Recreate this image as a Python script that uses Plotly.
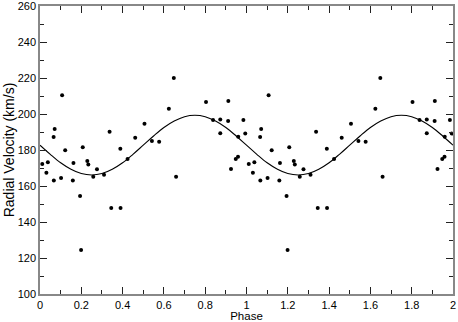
import plotly.graph_objects as go

# observed phases and radial velocities (one cycle, repeated at phase + 1)
phase = [0.011, 0.031, 0.038, 0.067, 0.066, 0.071, 0.102, 0.107, 0.122, 0.159,
         0.162, 0.194, 0.199, 0.207, 0.229, 0.234, 0.258, 0.276, 0.310, 0.337,
         0.345, 0.389, 0.390, 0.424, 0.461, 0.506, 0.542, 0.577, 0.624, 0.648,
         0.659, 0.804, 0.838, 0.873, 0.873, 0.912, 0.911, 0.925, 0.948, 0.959,
         0.960, 0.985, 0.994]
velocity = [172.2, 167.4, 173.2, 163.1, 187.2, 191.7, 164.4, 210.4, 179.8, 163.1,
            172.8, 154.4, 124.4, 181.5, 173.9, 172.0, 165.2, 169.3, 166.3, 190.2,
            147.8, 180.7, 147.8, 175.0, 186.8, 194.6, 185.0, 184.6, 202.9, 220.0,
            165.2, 206.7, 196.7, 197.0, 189.3, 207.2, 196.1, 169.4, 175.0, 176.3,
            187.4, 196.7, 189.1]

# fitted curve, one cycle
curve_phase = [0.0, 0.05, 0.1, 0.15, 0.2, 0.25, 0.3, 0.35, 0.4, 0.45, 0.5,
               0.55, 0.6, 0.65, 0.7, 0.75, 0.8, 0.85, 0.9, 0.95, 1.0]
curve_vel = [182.7, 177.6, 172.9, 169.3, 166.9, 166.1, 166.9, 169.3, 172.9, 177.6, 182.7,
             187.8, 192.5, 196.1, 198.5, 199.3, 198.5, 196.1, 192.5, 187.8, 182.7]

x_pts = phase + [p + 1 for p in phase]
y_pts = velocity + velocity
x_curve = curve_phase + [p + 1 for p in curve_phase[1:]]
y_curve = curve_vel + curve_vel[1:]

fig = go.Figure()

fig.add_trace(go.Scatter(
    x=x_curve, y=y_curve, mode="lines", line_shape="spline",
    line=dict(color="black", width=1.1), hoverinfo="skip"
))

fig.add_trace(go.Scatter(
    x=x_pts, y=y_pts, mode="markers",
    marker=dict(color="black", size=4)
))

axis_common = dict(
    showline=True, linecolor="#888", linewidth=1.5, mirror="ticks",
    ticks="inside", ticklen=7, tickcolor="#222", tickwidth=1,
    showgrid=False, zeroline=False, automargin=False,
    ticklabeloverflow="allow",
    tickfont=dict(size=11, color="black"),
)

fig.update_layout(
    width=458, height=322,
    margin=dict(l=40, r=5, t=6, b=28),
    paper_bgcolor="white", plot_bgcolor="white",
    font=dict(family="Liberation Sans, Arial, sans-serif", color="black", size=12),
    showlegend=False,
    xaxis=dict(
        axis_common, range=[0, 2], tickmode="linear", tick0=0, dtick=0.2,
        minor=dict(ticks="inside", ticklen=4, dtick=0.1, tickcolor="#222"),
        title=dict(text="Phase", font=dict(size=11.5), standoff=0),
    ),
    yaxis=dict(
        axis_common, range=[100, 260], tickmode="linear", tick0=100, dtick=20,
        minor=dict(ticks="inside", ticklen=4, dtick=10, tickcolor="#222"),
        title=dict(text="Radial Velocity (km/s)", font=dict(size=14), standoff=0),
    ),
)

# the page body has a default margin; drop it so the figure sits at the corner
fig.write_html("out.html", config={"displayModeBar": False},
               post_script="document.body.style.margin='0';")
